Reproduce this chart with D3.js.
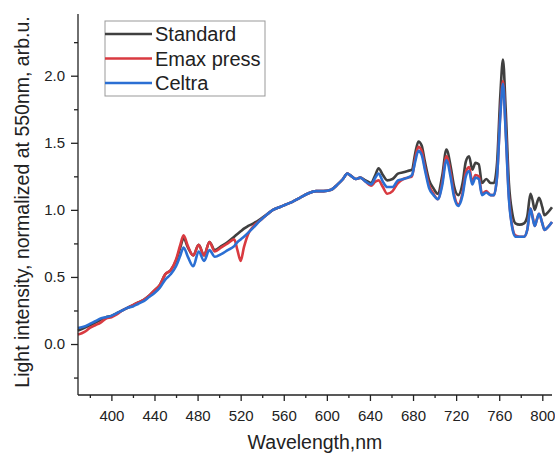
<!DOCTYPE html>
<html>
<head>
<meta charset="utf-8">
<script src="https://cdn.jsdelivr.net/npm/d3@7"></script>
<style>
  body { margin: 0; background: #fff; }
  svg { display: block; font-family: "Liberation Sans", Arial, sans-serif; }
</style>
</head>
<body>
<svg id="chart"></svg>
<script>
// Canvas size
var w = 555;
var h = 454;

// Wavelengths (nm) shared by all three spectra
var wavelengths = [369, 375, 380, 385, 390, 395, 400, 405, 410, 415, 420, 425, 430, 435, 440, 445, 450, 455, 460, 464,
  467, 471, 476, 481, 486, 491, 496, 502, 508, 514, 517, 520, 523, 527, 532, 538, 545, 550, 556, 562,
  568, 575, 582, 590, 597, 604, 610, 615, 619, 623, 627, 631, 636, 641, 645, 648, 652, 656, 661, 666,
  671, 675, 679, 682, 685, 688, 691, 695, 699, 703, 707, 711, 715, 718, 722, 726, 729, 732, 735, 738,
  741, 744, 748, 752, 755, 758, 761, 763.5, 766, 769, 772, 775, 779, 783, 786, 789, 791, 793, 795, 797,
  800, 802, 805, 809];

var standard = [0.10, 0.12, 0.14, 0.16, 0.18, 0.20, 0.21, 0.23, 0.25, 0.27, 0.29, 0.31, 0.33, 0.36, 0.40, 0.44, 0.52, 0.55, 0.62, 0.72,
  0.79, 0.72, 0.66, 0.74, 0.66, 0.76, 0.70, 0.73, 0.76, 0.80, 0.82, 0.84, 0.86, 0.88, 0.90, 0.93, 0.97, 1.00, 1.02, 1.04,
  1.06, 1.09, 1.12, 1.14, 1.14, 1.15, 1.19, 1.23, 1.27, 1.25, 1.23, 1.24, 1.22, 1.20, 1.26, 1.31, 1.26, 1.22, 1.23, 1.27,
  1.28, 1.29, 1.30, 1.42, 1.51, 1.48, 1.36, 1.22, 1.16, 1.12, 1.25, 1.45, 1.32, 1.18, 1.11, 1.20, 1.36, 1.40, 1.30, 1.35,
  1.34, 1.20, 1.23, 1.20, 1.20, 1.35, 1.85, 2.12, 1.75, 1.20, 0.98, 0.90, 0.89, 0.90, 0.95, 1.12, 1.07, 1.00, 1.05, 1.09,
  1.02, 0.96, 0.98, 1.02];

var emaxPress = [0.07, 0.09, 0.12, 0.14, 0.16, 0.19, 0.20, 0.22, 0.25, 0.27, 0.29, 0.31, 0.33, 0.36, 0.40, 0.44, 0.52, 0.55, 0.63, 0.74,
  0.81, 0.73, 0.66, 0.74, 0.66, 0.76, 0.69, 0.72, 0.75, 0.78, 0.70, 0.62, 0.72, 0.82, 0.88, 0.92, 0.97, 1.00, 1.02, 1.04,
  1.06, 1.09, 1.12, 1.14, 1.14, 1.15, 1.19, 1.23, 1.27, 1.25, 1.23, 1.24, 1.21, 1.18, 1.21, 1.22, 1.17, 1.12, 1.14, 1.20,
  1.23, 1.24, 1.25, 1.38, 1.47, 1.44, 1.32, 1.18, 1.12, 1.08, 1.20, 1.40, 1.27, 1.12, 1.04, 1.13, 1.28, 1.32, 1.21, 1.26,
  1.25, 1.12, 1.14, 1.11, 1.11, 1.25, 1.72, 1.96, 1.60, 1.10, 0.88, 0.81, 0.80, 0.80, 0.85, 1.01, 0.95, 0.88, 0.93, 0.97,
  0.90, 0.85, 0.87, 0.91];

var celtra = [0.12, 0.13, 0.15, 0.17, 0.19, 0.20, 0.21, 0.23, 0.25, 0.27, 0.28, 0.30, 0.32, 0.35, 0.38, 0.42, 0.48, 0.52, 0.58, 0.66,
  0.72, 0.65, 0.58, 0.69, 0.62, 0.70, 0.65, 0.67, 0.70, 0.73, 0.76, 0.78, 0.80, 0.83, 0.87, 0.92, 0.97, 1.00, 1.02, 1.04,
  1.06, 1.09, 1.12, 1.14, 1.14, 1.15, 1.19, 1.23, 1.27, 1.25, 1.23, 1.24, 1.21, 1.19, 1.24, 1.27, 1.21, 1.17, 1.17, 1.22,
  1.23, 1.24, 1.26, 1.36, 1.44, 1.41, 1.30, 1.16, 1.11, 1.08, 1.18, 1.37, 1.24, 1.10, 1.03, 1.11, 1.25, 1.29, 1.19, 1.24,
  1.23, 1.11, 1.13, 1.11, 1.11, 1.25, 1.70, 1.94, 1.58, 1.08, 0.87, 0.80, 0.80, 0.80, 0.85, 1.01, 0.94, 0.88, 0.93, 0.97,
  0.90, 0.85, 0.87, 0.91];

var seriesNames = ["Standard", "Emax press", "Celtra"];
var seriesValues = [standard, emaxPress, celtra];
var seriesColors = ["#404040", "#d93a40", "#2b6fd3"];

var xTicks = [400, 440, 480, 520, 560, 600, 640, 680, 720, 760, 800];
var xMinorTicks = [380, 420, 460, 500, 540, 580, 620, 660, 700, 740, 780];
var yTicks = [0.0, 0.5, 1.0, 1.5, 2.0];
var yMinorTicks = [-0.25, 0.25, 0.75, 1.25, 1.75, 2.25];

// Plot area (plotTop, not "top": that name clashes with window.top)
var plotLeft = 78, plotRight = 552, plotTop = 14, plotBottom = 395;

var xScale = d3.scaleLinear().domain([369, 809]).range([plotLeft, plotRight]);
var yScale = d3.scaleLinear().domain([-0.38, 2.46]).range([plotBottom, plotTop]);

var svg = d3.select("#chart")
    .attr("width", w)
    .attr("height", h);

// Lines
var line = d3.line()
    .x(function (d) { return xScale(d.wl); })
    .y(function (d) { return yScale(d.v); })
    .curve(d3.curveMonotoneX);

seriesValues.forEach(function (vals, i) {
    var pts = wavelengths.map(function (wl, j) { return { wl: wl, v: vals[j] }; });
    svg.append("path")
        .datum(pts)
        .attr("fill", "none")
        .attr("stroke", seriesColors[i])
        .attr("stroke-width", 2.6)
        .attr("stroke-linejoin", "round")
        .attr("d", line);
});

// X axis (major + minor)
svg.append("g")
    .attr("class", "x-axis")
    .attr("transform", "translate(0," + plotBottom + ")")
    .call(d3.axisBottom(xScale).tickValues(xTicks).tickFormat(d3.format("d")).tickSize(6).tickPadding(9));
svg.append("g")
    .attr("transform", "translate(0," + plotBottom + ")")
    .call(d3.axisBottom(xScale).tickValues(xMinorTicks).tickFormat("").tickSize(3));

// Y axis (major + minor)
svg.append("g")
    .attr("class", "y-axis")
    .attr("transform", "translate(" + plotLeft + ",0)")
    .call(d3.axisLeft(yScale).tickValues(yTicks).tickFormat(d3.format(".1f")).tickSize(7).tickPadding(6));
svg.append("g")
    .attr("transform", "translate(" + plotLeft + ",0)")
    .call(d3.axisLeft(yScale).tickValues(yMinorTicks).tickFormat("").tickSize(4));

// axis lines drawn by hand so they span the full plot box
svg.selectAll(".domain").remove();
svg.append("line")
    .attr("x1", plotLeft).attr("x2", plotLeft).attr("y1", plotTop).attr("y2", plotBottom)
    .attr("stroke", "#222").attr("stroke-width", 1.3);
svg.append("line")
    .attr("x1", plotLeft).attr("x2", plotRight).attr("y1", plotBottom).attr("y2", plotBottom)
    .attr("stroke", "#222").attr("stroke-width", 1.3);

svg.selectAll(".tick line").attr("stroke", "#222").attr("stroke-width", 1.3);
svg.selectAll(".tick text")
    .attr("font-size", "15px")
    .attr("fill", "#222")
    .attr("font-family", "Liberation Sans, Arial, sans-serif");

// Axis titles
svg.append("text")
    .attr("x", 315)
    .attr("y", 449)
    .attr("text-anchor", "middle")
    .attr("font-size", "19.5px")
    .attr("fill", "#222")
    .text("Wavelength,nm");

svg.append("text")
    .attr("transform", "translate(29,202) rotate(-90)")
    .attr("text-anchor", "middle")
    .attr("font-size", "19.5px")
    .attr("fill", "#222")
    .text("Light intensity, normalized at 550nm, arb.u.");

// Legend
var legend = svg.append("g").attr("transform", "translate(105,21)");
legend.append("rect")
    .attr("width", 160)
    .attr("height", 75)
    .attr("fill", "#fff")
    .attr("stroke", "#999")
    .attr("stroke-width", 1);

seriesNames.forEach(function (name, i) {
    var yy = 13 + i * 24.5;
    legend.append("line")
        .attr("x1", 0).attr("x2", 47)
        .attr("y1", yy).attr("y2", yy)
        .attr("stroke", seriesColors[i])
        .attr("stroke-width", 2.6);
    legend.append("text")
        .attr("x", 50)
        .attr("y", yy + 7)
        .attr("font-size", "20px")
        .attr("fill", "#222")
        .text(name);
});
</script>
</body>
</html>
